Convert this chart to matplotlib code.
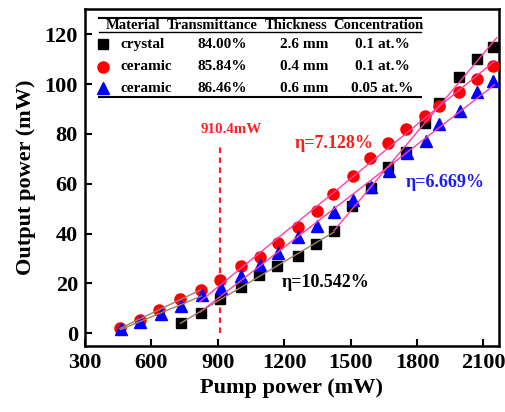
import numpy as np
import matplotlib
matplotlib.use("Agg")
import matplotlib.pyplot as plt
from matplotlib.lines import Line2D

plt.rcParams['font.family'] = ['Liberation Serif', 'DejaVu Serif']
plt.rcParams['font.weight'] = 'bold'

# pump power (mW) / output power (mW)
crystal_x = [732, 823, 910, 1004, 1088, 1169, 1261, 1342, 1425, 1508, 1591,
             1671, 1749, 1836, 1901, 1990, 2070, 2145]
crystal_y = [4.0, 8.3, 13.7, 18.7, 23.4, 27.1, 31.0, 35.9, 41.2, 51.1, 58.2,
             66.7, 72.9, 84.3, 92.6, 102.8, 110.0, 115.1]

ceramic04_x = [458, 548, 636, 729, 823, 910, 1005, 1091, 1171, 1261, 1347,
               1422, 1512, 1588, 1671, 1749, 1836, 1898, 1988, 2070, 2142]
ceramic04_y = [2.2, 5.3, 9.4, 13.6, 17.4, 21.4, 27.0, 30.8, 36.4, 42.8, 49.2,
               55.9, 63.2, 70.3, 76.5, 81.9, 87.3, 91.4, 96.9, 102.1, 107.5]

ceramic06_x = [463, 548, 642, 732, 827, 913, 1007, 1090, 1173, 1261, 1347,
               1425, 1512, 1591, 1673, 1753, 1839, 1900, 1995, 2070, 2142]
ceramic06_y = [1.8, 4.7, 7.6, 11.1, 15.4, 18.3, 23.0, 27.4, 32.4, 38.6, 43.1,
               48.6, 53.3, 58.6, 65.2, 72.3, 77.0, 84.0, 89.4, 97.0, 101.4]

threshold = 910.4
slopes = ["η=10.542%", "η=7.128%", "η=6.669%"]

table_header = ["Material", "Transmittance", "Thickness", "Concentration"]
table_rows = [["crystal", "84.00%", "2.6 mm", "0.1 at.%"],
              ["ceramic", "85.84%", "0.4 mm", "0.1 at.%"],
              ["ceramic", "86.46%", "0.6 mm", "0.05 at.%"]]

PINK = '#ff3fa6'
BROWN = '#9a8468'


def fit_line(ax, x, y, i0, i1, x_from, x_to, color):
    x = np.asarray(x, float)
    y = np.asarray(y, float)
    k, b = np.polyfit(x[i0:i1], y[i0:i1], 1)
    xs = np.array([x_from, x_to])
    ax.plot(xs, k * xs + b, color=color, lw=1.0, zorder=4)


fig = plt.figure(figsize=(5.05, 4.12), dpi=100)
ax = fig.add_axes([0.168, 0.161, 0.820, 0.816])

# fitted lines: low-power part (brown) and high-power part (pink)
fit_line(ax, ceramic04_x, ceramic04_y, 0, 5, 458, 823, BROWN)
fit_line(ax, ceramic06_x, ceramic06_y, 0, 5, 463, 827, BROWN)
fit_line(ax, crystal_x, crystal_y, 0, 9, 732, 1425, BROWN)
fit_line(ax, ceramic04_x, ceramic04_y, 5, None, 820, 2150, PINK)
fit_line(ax, ceramic06_x, ceramic06_y, 5, None, 820, 2150, PINK)
fit_line(ax, crystal_x, crystal_y, 8, None, 1425, 2160, PINK)

ax.plot(crystal_x, crystal_y, 's', color='black', ms=7, ls='none', zorder=3)
ax.plot(ceramic04_x, ceramic04_y, 'o', color='#ff0000', ms=8, ls='none', zorder=3)
ax.plot(ceramic06_x, ceramic06_y, '^', color='#0000ff', ms=8.5, ls='none', zorder=3)

ax.plot([threshold, threshold], [0, 75], color='#ff2020', lw=1.6,
        ls=(0, (2.5, 2)), zorder=2)
ax.text(962, 82, "910.4mW", color='#ff2020', fontsize=10.8, ha='center',
        va='center', fontweight='bold')

ax.text(1388, 20.3, slopes[0], color='black', fontsize=13, ha='center', va='center')
ax.text(1425, 76.3, slopes[1], color='#ff1a1a', fontsize=13, ha='center', va='center')
ax.text(1927, 60.5, slopes[2], color='#1a1aff', fontsize=13, ha='center', va='center')

# table in upper left
tr = ax.transAxes
for yl, lw in [(0.976, 1.5), (0.932, 1.0), (0.740, 1.5)]:
    ax.add_line(Line2D([0.0345, 0.8116], [yl, yl], transform=tr, color='black', lw=lw))
head_x = [0.116, 0.307, 0.511, 0.710]
for t, xh in zip(table_header, head_x):
    ax.text(xh, 0.952, t, transform=tr, ha='center', va='center', fontsize=10.5)
row_y = [0.896, 0.829, 0.765]
row_mk = [('s', 'black', 7), ('o', '#ff0000', 8), ('^', '#0000ff', 8.5)]
col_x = [0.331, 0.529, 0.719]
for ry, row, (m, c, s) in zip(row_y, table_rows, row_mk):
    ax.plot([0.043], [ry], m, color=c, ms=s, transform=tr, clip_on=False)
    ax.text(0.087, ry, row[0], transform=tr, ha='left', va='center', fontsize=11)
    for t, xc in zip(row[1:], col_x):
        ax.text(xc, ry, t, transform=tr, ha='center', va='center', fontsize=11)

ax.set_xlim(300, 2170)
ax.set_ylim(-5, 130)
ax.set_xticks(range(300, 2101, 300))
ax.set_yticks(range(0, 121, 20))
ax.tick_params(direction='in', length=5, width=1.5, labelsize=16, pad=5)
for lab in ax.get_xticklabels() + ax.get_yticklabels():
    lab.set_fontweight('bold')
for sp in ax.spines.values():
    sp.set_linewidth(1.8)

ax.set_xlabel("Pump power (mW)", fontsize=16, fontweight='bold', labelpad=4)
ax.set_ylabel("Output power (mW)", fontsize=16, fontweight='bold', labelpad=6)

fig.savefig("out.png", dpi=100)
